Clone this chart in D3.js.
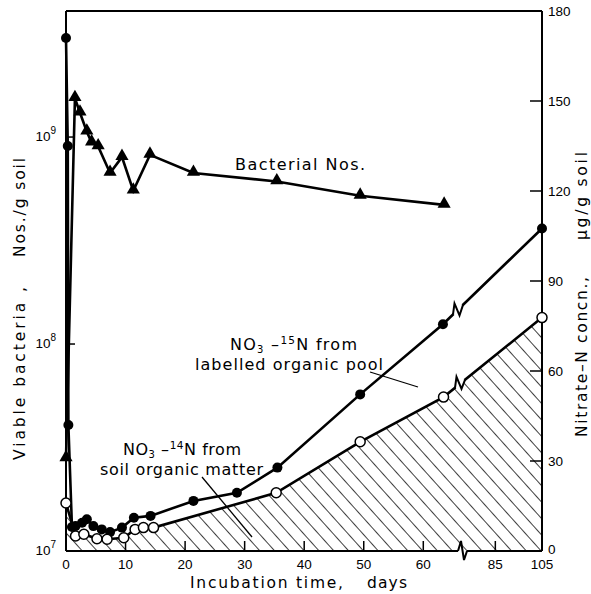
<!DOCTYPE html>
<html>
<head>
<meta charset="utf-8">
<script src="https://cdn.jsdelivr.net/npm/d3@7"></script>
<style>
  body { margin: 0; background: #fff; }
  svg { display: block; font-family: "DejaVu Sans", sans-serif; }
</style>
</head>
<body>
<svg id="chart" width="591" height="594"></svg>
<script>
// bacterial counts (viable bacteria / g soil), log axis
const bactDays = [0, 1.5, 2.35, 3.5, 4.3, 5.4, 7.4, 9.4, 11.3, 14.1, 21.4, 35.4, 49.4, 63.5];
const bactNos = [2.8e7, 1.54e9, 1.31e9, 1.06e9, 9.4e8, 9.0e8, 6.7e8, 8.0e8, 5.5e8, 8.2e8, 6.7e8, 6.1e8, 5.2e8, 4.7e8];

// total nitrate-N (filled circles), ug/g soil
const totDays = [0, 0.3, 0.4, 1.0, 1.6, 2.7, 3.5, 4.6, 6.0, 7.4, 9.4, 11.4, 14.2, 21.4, 28.7, 35.5, 49.4, 63.3, 105];
const totN = [171, 135, 42, 8, 8.3, 9.4, 10.6, 8.3, 7.2, 6.3, 7.8, 11.1, 11.7, 16.7, 19.4, 27.8, 52.2, 75.6, 107.5];

// nitrate-N from soil organic matter (open circles)
const somDays = [0, 1.6, 3.0, 5.2, 6.9, 9.7, 11.6, 13.0, 14.7, 35.3, 49.4, 63.4, 105];
const somN = [16, 5, 5.6, 4.1, 3.9, 4.4, 7.2, 7.8, 7.8, 19.4, 36.4, 51.3, 77.8];

const xTicks = [0, 10, 20, 30, 40, 50, 60, 85, 105];
const rightTicks = [0, 30, 60, 90, 120, 150, 180];
const leftTicks = [1e7, 1e8, 1e9];

const svg = d3.select('#chart');

// broken day axis: 0-66.5 then 72-105
const x = d3.scaleLinear()
    .domain([0, 66.5, 72, 105])
    .range([66, 462, 465, 542]);
const yL = d3.scaleLog()
    .domain([1e7, Math.pow(10, 9.609)])
    .range([551, 11]);
const yR = d3.scaleLinear()
    .domain([0, 180])
    .range([551, 11]);

const bact = bactDays.map((d, i) => ({ d: d, v: bactNos[i] }));
const tot = totDays.map((d, i) => ({ d: d, v: totN[i] }));
const som = somDays.map((d, i) => ({ d: d, v: somN[i] }));

// hatch pattern
const defs = svg.append('defs');
defs.append('pattern')
    .attr('id', 'hatch')
    .attr('patternUnits', 'userSpaceOnUse')
    .attr('width', 11)
    .attr('height', 11)
    .attr('patternTransform', 'rotate(-42)')
    .append('line')
    .attr('x1', 0).attr('y1', -2).attr('x2', 0).attr('y2', 13)
    .attr('stroke', '#000')
    .attr('stroke-width', 1.5);

svg.append('path')
    .datum(som)
    .attr('d', d3.area().x(p => x(p.d)).y0(yR(0)).y1(p => yR(p.v)))
    .attr('fill', 'url(#hatch)');

// frame
const frame = svg.append('g').attr('stroke', '#000').attr('stroke-width', 2).attr('fill', 'none');
frame.append('line').attr('x1', 66).attr('y1', 11).attr('x2', 542).attr('y2', 11);
frame.append('line').attr('x1', 66).attr('y1', 11).attr('x2', 66).attr('y2', 551);
frame.append('line').attr('x1', 542).attr('y1', 11).attr('x2', 542).attr('y2', 551);
frame.append('line').attr('x1', 66).attr('y1', 551).attr('x2', 458).attr('y2', 551);
frame.append('line').attr('x1', 467).attr('y1', 551).attr('x2', 542).attr('y2', 551);
frame.append('path').attr('d', 'M458,551 L461,541 L464,560 L467,551');

// ticks pointing inward
const ticks = svg.append('g').attr('stroke', '#000').attr('stroke-width', 1.5);
ticks.selectAll('.xt').data(xTicks.filter(t => t > 0 && t < 105)).enter().append('line')
    .attr('x1', t => x(t)).attr('x2', t => x(t))
    .attr('y1', 551).attr('y2', 541);
ticks.selectAll('.rt').data(rightTicks.filter(t => t > 0 && t < 180)).enter().append('line')
    .attr('x1', 542).attr('x2', 530)
    .attr('y1', t => yR(t)).attr('y2', t => yR(t));
ticks.selectAll('.lt').data(leftTicks.slice(1)).enter().append('line')
    .attr('x1', 66).attr('x2', 75)
    .attr('y1', t => yL(t)).attr('y2', t => yL(t));

// tick labels
const lab = svg.append('g').attr('font-size', 13.5).attr('fill', '#000')
    .attr('font-family', '"Liberation Sans", Arial, sans-serif');
lab.selectAll('.xl').data(xTicks).enter().append('text')
    .attr('x', t => x(t)).attr('y', 569)
    .attr('text-anchor', 'middle')
    .text(t => t);
lab.selectAll('.rl').data(rightTicks).enter().append('text')
    .attr('x', 548).attr('y', t => yR(t) + (t === 0 ? 3 : 5))
    .text(t => t);
const ll = lab.selectAll('.ll').data(leftTicks).enter().append('text')
    .attr('x', 56).attr('y', t => yL(t) + 4)
    .attr('text-anchor', 'end');
ll.append('tspan').text('10');
ll.append('tspan').attr('dy', -7).attr('font-size', 10).text(t => Math.round(Math.log10(t)));

// series lines
const lineB = d3.line().x(p => x(p.d)).y(p => yL(p.v));
const lineN = d3.line().x(p => x(p.d)).y(p => yR(p.v));

svg.append('path').datum(bact).attr('d', lineB)
    .attr('fill', 'none').attr('stroke', '#000').attr('stroke-width', 2.6);
svg.append('path').datum(tot).attr('d', lineN)
    .attr('fill', 'none').attr('stroke', '#000').attr('stroke-width', 2.6);
svg.append('path').datum(som).attr('d', lineN)
    .attr('fill', 'none').attr('stroke', '#000').attr('stroke-width', 2.6);

// "N" shaped break marks on the nitrate lines
function breakMark(series, px) {
  const i = series.findIndex(p => x(p.d) > px);
  const a = series[i - 1], b = series[i];
  const xa = x(a.d), ya = yR(a.v), xb = x(b.d), yb = yR(b.v);
  const yAt = xx => ya + (xx - xa) * (yb - ya) / (xb - xa);
  const y0 = yAt(px), y1 = yAt(px + 10);
  svg.append('path')
      .attr('d', d3.line()([[px + 0.5, yAt(px + 0.5)], [px + 9.5, yAt(px + 9.5)]]))
      .attr('stroke', '#fff').attr('stroke-width', 5);
  svg.append('path')
      .attr('d', d3.line()([[px, y0], [px + 1.5, y0 - 11], [px + 6.5, y0 + 1], [px + 10, y1]]))
      .attr('fill', 'none').attr('stroke', '#000').attr('stroke-width', 2)
      .attr('stroke-linejoin', 'miter');
}
breakMark(tot, 453);
breakMark(som, 455);

// markers
svg.selectAll('.tri').data(bact).enter().append('path')
    .attr('d', d3.symbol().type(d3.symbolTriangle).size(75))
    .attr('transform', p => `translate(${x(p.d)},${yL(p.v) - 1})`)
    .attr('fill', '#000');
svg.selectAll('.fc').data(tot).enter().append('circle')
    .attr('cx', p => x(p.d)).attr('cy', p => yR(p.v)).attr('r', 5)
    .attr('fill', '#000');
svg.selectAll('.oc').data(som).enter().append('circle')
    .attr('cx', p => x(p.d)).attr('cy', p => yR(p.v)).attr('r', 5)
    .attr('fill', '#fff').attr('stroke', '#000').attr('stroke-width', 1.5);

// annotations
const ann = svg.append('g').attr('font-size', 16).attr('fill', '#000');
ann.append('text').attr('x', 235).attr('y', 170)
    .attr('textLength', 130).attr('lengthAdjust', 'spacing')
    .text('Bacterial Nos.');

function nitrateLabel(x0, y0, iso, len) {
  const t = ann.append('text').attr('x', x0).attr('y', y0)
      .attr('textLength', len).attr('lengthAdjust', 'spacing');
  t.append('tspan').text('NO');
  t.append('tspan').attr('dy', 3).attr('font-size', 10).text('3');
  t.append('tspan').attr('dy', -3).text(' \u2013');
  t.append('tspan').attr('dy', -6).attr('font-size', 10.5).text(iso);
  t.append('tspan').attr('dy', 6).text('N from');
}
nitrateLabel(230, 350, '15', 127);
ann.append('text').attr('x', 195).attr('y', 370)
    .attr('textLength', 188).attr('lengthAdjust', 'spacing')
    .text('labelled organic pool');
nitrateLabel(123, 455, '14', 118);
ann.append('text').attr('x', 100).attr('y', 475)
    .attr('textLength', 163).attr('lengthAdjust', 'spacing')
    .text('soil organic matter');

const leaders = svg.append('g').attr('stroke', '#000').attr('stroke-width', 1.3);
leaders.append('line').attr('x1', 370).attr('y1', 372).attr('x2', 418).attr('y2', 387);
leaders.append('line').attr('x1', 202).attr('y1', 477).attr('x2', 252).attr('y2', 537);

// axis titles
const tt = svg.append('g').attr('font-size', 15.5).attr('fill', '#000');
function title(str, tx, ty, rot, len) {
  tt.append('text')
      .attr('transform', `translate(${tx},${ty})` + (rot ? ` rotate(${rot})` : ''))
      .attr('textLength', len).attr('lengthAdjust', 'spacing')
      .text(str);
}
title('Incubation time,', 190, 588, 0, 153);
title('days', 367, 588, 0, 40);
title('Viable bacteria ,', 25, 460, -90, 173);
title('Nos./g soil', 25, 257, -90, 99);
title('Nitrate\u2013N concn.,', 587, 437, -90, 160);
title('\u00b5g/g soil', 587, 240, -90, 88);
</script>
</body>
</html>
